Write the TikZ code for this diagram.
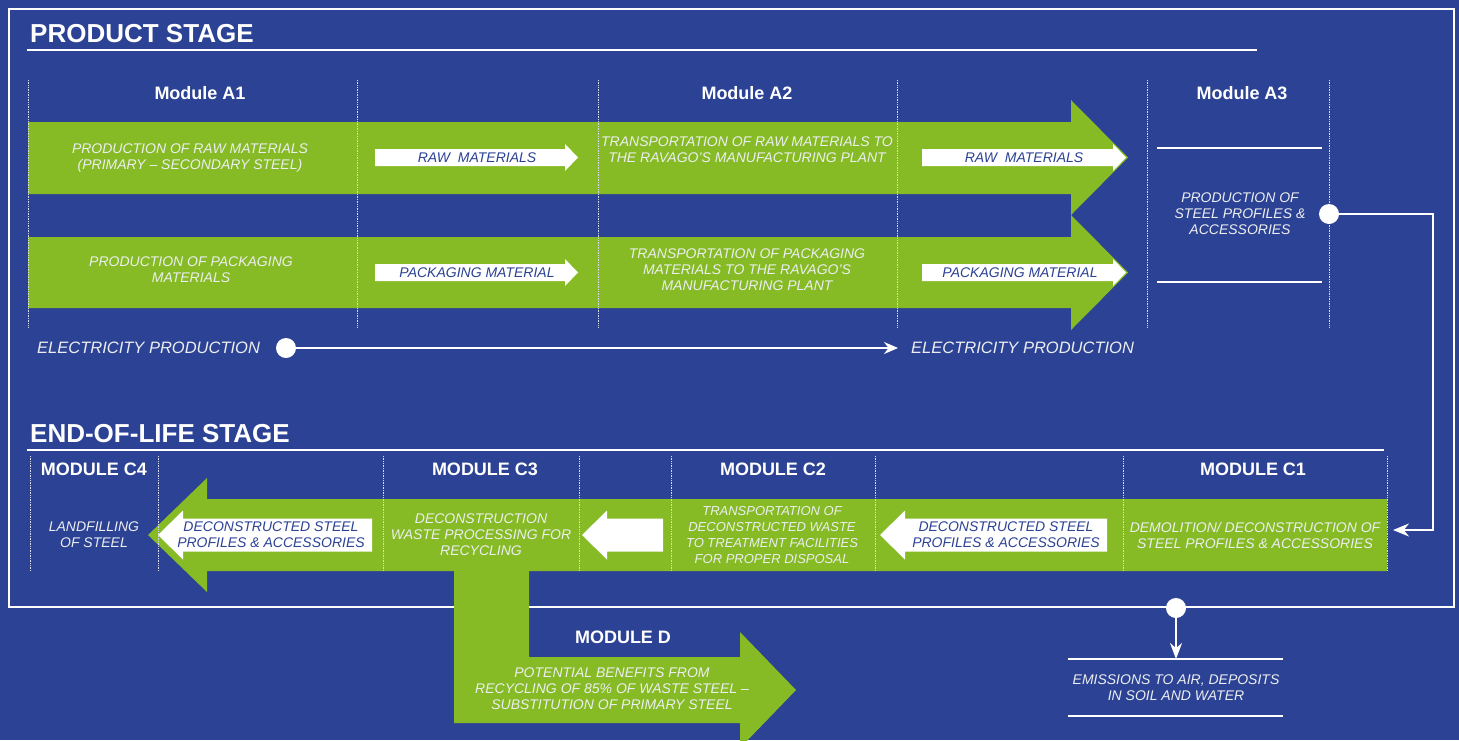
\documentclass[tikz,border=0pt]{standalone}
\usepackage{fontspec}
\setmainfont{Liberation Sans}
\usetikzlibrary{arrows.meta}
\definecolor{ravblau}{RGB}{44,66,148}
\definecolor{ravgruen}{RGB}{134,187,38}
\definecolor{ravtext}{RGB}{236,238,240}
\begin{document}
\begin{tikzpicture}[x=1pt,y=-1pt,line join=miter,
  band/.style={fill=ravgruen},
  pfeil/.style={fill=white},
  trenn/.style={draw=white!80!ravblau,densely dotted,line width=.7pt},
  linie/.style={draw=white,line width=2.5pt},
  leitung/.style={draw=white,line width=2pt},
  stufe/.style={font=\fontsize{26}{28}\selectfont\bfseries,text=white,anchor=base west,inner sep=0pt},
  modul/.style={font=\fontsize{18}{20}\selectfont\bfseries,text=white},
  inhalt/.style={font=\fontsize{14}{16}\selectfont\itshape,text=ravtext,align=center,inner sep=0pt},
  etikett/.style={font=\fontsize{14}{16}\selectfont\itshape,text=ravblau,align=center,inner sep=0pt},
  strom/.style={font=\fontsize{16.5}{18}\selectfont\itshape,text=ravtext,anchor=west,inner sep=0pt},
  punkt/.style={circle,fill=white,minimum size=20pt,inner sep=0pt}]
\useasboundingbox (0,0) rectangle (1459,740);
\fill[ravblau] (0,0) rectangle (1459,740);
\draw[white,line width=2.5pt] (9,9) rectangle (1454,607);
% Produktphase: zwei Baender mit grossen Pfeilspitzen
\node[stufe] (produkt) at (30,42) {PRODUCT STAGE};
\draw[linie] (27,50) -- (1257,50);
\path[band] (28,122) -- (1071,122) -- (1071,100) -- (1128,157.5) -- (1071,215) -- (1071,194) -- (28,194) -- cycle;
\path[band] (28,237) -- (1071,237) -- (1071,215) -- (1128,272.5) -- (1071,330) -- (1071,308) -- (28,308) -- cycle;
\foreach \xa/\xb/\y in {375/578/157.5,922/1126/157.5,375/578/272.5,922/1126/272.5}
  \path[pfeil] (\xa,\y-8.5) -- (\xb-13,\y-8.5) -- (\xb-13,\y-13.5) -- (\xb,\y)
   -- (\xb-13,\y+13.5) -- (\xb-13,\y+8.5) -- (\xa,\y+8.5) -- cycle;
\foreach \x in {28,357,598,897,1147,1329} \draw[trenn] (\x,80) -- (\x,328);
\node[modul] (ma1) at (200,93) {Module A1};
\node[modul] (ma2) at (747,93) {Module A2};
\node[modul] (ma3) at (1242,93) {Module A3};
\node[inhalt] (a1roh) at (190,158) {PRODUCTION OF RAW MATERIALS\\(PRIMARY – SECONDARY STEEL)};
\node[inhalt] (a1pack) at (191,270) {PRODUCTION OF PACKAGING\\MATERIALS};
\node[inhalt] (a2roh) at (747,150) {TRANSPORTATION OF RAW MATERIALS TO\\THE RAVAGO'S MANUFACTURING PLANT};
\node[inhalt] (a2pack) at (747,270) {TRANSPORTATION OF PACKAGING\\MATERIALS TO THE RAVAGO'S\\MANUFACTURING PLANT};
\node[etikett] (roh1) at (477,157.5) {RAW\ \ MATERIALS};
\node[etikett] (roh2) at (1024,157.5) {RAW\ \ MATERIALS};
\node[etikett] (pack1) at (477,272.5) {PACKAGING MATERIAL};
\node[etikett] (pack2) at (1020,272.5) {PACKAGING MATERIAL};
\draw[leitung] (1157,148) -- (1322,148) (1157,282) -- (1322,282);
\node[inhalt] (a3) at (1240,214) {PRODUCTION OF\\STEEL PROFILES \&\\ACCESSORIES};
\node[punkt] (a3punkt) at (1329,214) {};
% Strom
\node[strom] (strom1) at (37,348) {ELECTRICITY PRODUCTION};
\node[punkt] (strompunkt) at (286,348) {};
\node[strom] (strom2) at (911,348) {ELECTRICITY PRODUCTION};
\draw[leitung,-{Stealth[length=14pt,width=12pt]},shorten >=13pt] (strompunkt) -- (strom2);
% Entsorgungsphase
\node[stufe] (ende) at (30,442) {END-OF-LIFE STAGE};
\draw[linie] (27,450) -- (1384,450);
\path[band] (1387,499) -- (207,499) -- (207,478) -- (148,535) -- (207,592) -- (207,571) -- (1387,571) -- cycle;
\path[band] (454,571) -- (529,571) -- (529,657) -- (740,657) -- (740,632) -- (796,690)
 -- (740,748) -- (740,723) -- (454,723) -- cycle;
\foreach \xa/\xb in {158/372,582/663,880/1107}
  \path[pfeil] (\xa,535) -- (\xa+25,510.5) -- (\xa+25,518.5) -- (\xb,518.5)
   -- (\xb,551.5) -- (\xa+25,551.5) -- (\xa+25,559.5) -- cycle;
\foreach \x in {30,158,383,579,671,875,1123,1387} \draw[trenn] (\x,456) -- (\x,570);
\node[modul] (mc4) at (94,469) {MODULE C4};
\node[modul] (mc3) at (485,469) {MODULE C3};
\node[modul] (mc2) at (773,469) {MODULE C2};
\node[modul] (mc1) at (1253,469) {MODULE C1};
\node[modul] (md) at (623,637) {MODULE D};
\node[inhalt] (c4) at (94,535) {LANDFILLING\\OF STEEL};
\node[etikett] (dek1) at (271,535) {DECONSTRUCTED STEEL\\PROFILES \& ACCESSORIES};
\node[inhalt] (c3) at (481,535) {DECONSTRUCTION\\WASTE PROCESSING FOR\\RECYCLING};
\node[inhalt,font=\fontsize{13}{16}\selectfont\itshape] (c2) at (772,535) {TRANSPORTATION OF\\DECONSTRUCTED WASTE\\TO TREATMENT FACILITIES\\FOR PROPER DISPOSAL};
\node[etikett] (dek2) at (1006,535) {DECONSTRUCTED STEEL\\PROFILES \& ACCESSORIES};
\node[inhalt] (c1) at (1255,535) {DEMOLITION/ DECONSTRUCTION OF\\STEEL PROFILES \& ACCESSORIES};
\node[inhalt] (d) at (612,689) {POTENTIAL BENEFITS FROM\\RECYCLING OF 85\% OF WASTE STEEL –\\SUBSTITUTION OF PRIMARY STEEL};
% Verbindung A3 -> C1
\coordinate (rechts) at (1433,214);
\coordinate (c1ein) at (1393,530);
\draw[leitung,-{Stealth[length=16pt,width=13pt]}] (a3punkt) -- (rechts) |- (c1ein);
% Emissionen
\node[punkt] (emipunkt) at (1176,608) {};
\coordinate (emioben) at (1176,659);
\draw[leitung] (1068,659) -- (1283,659) (1068,716) -- (1283,716);
\draw[leitung,-{Stealth[length=16pt,width=12pt]}] (emipunkt) -- (emioben);
\node[inhalt] (emi) at (1176,688) {EMISSIONS TO AIR, DEPOSITS\\IN SOIL AND WATER};
\end{tikzpicture}
\end{document}
